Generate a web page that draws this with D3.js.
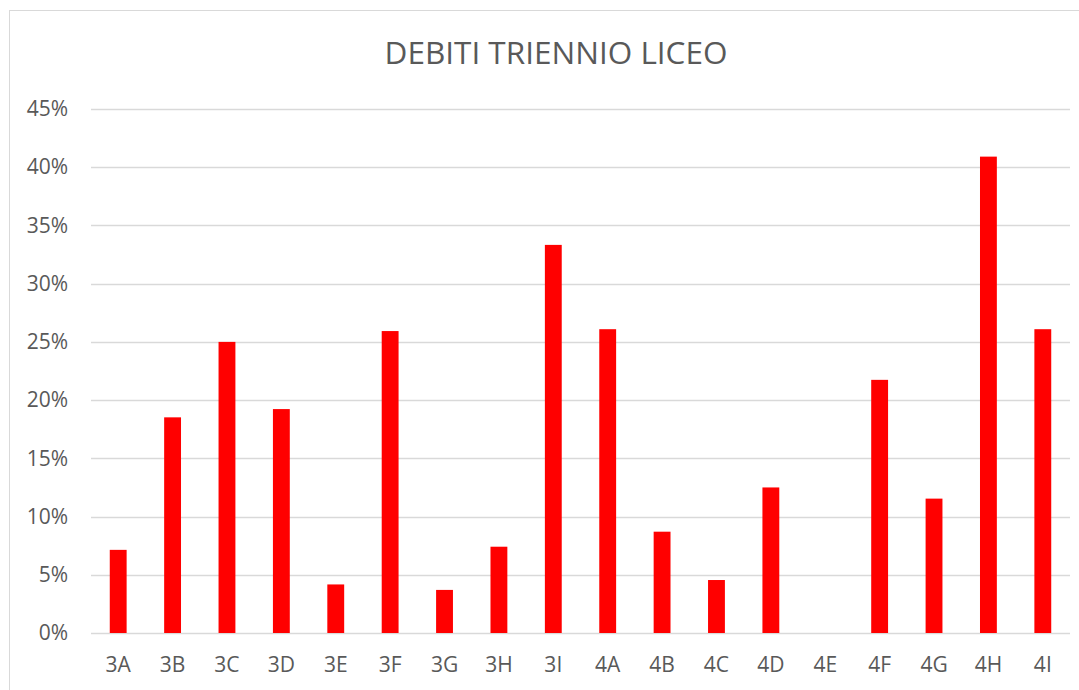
<!DOCTYPE html>
<html>
<head>
<meta charset="utf-8">
<script src="https://cdn.jsdelivr.net/npm/d3@7"></script>
<style>
  body { margin: 0; background: #fff; }
  text { font-family: "Open Sans", "DejaVu Sans", sans-serif; fill: #595959; }
</style>
</head>
<body>
<div id="chart"></div>
<script>
// class names and share of students with debts
var classes = ["3A","3B","3C","3D","3E","3F","3G","3H","3I","4A","4B","4C","4D","4E","4F","4G","4H","4I"];
var debiti = [0.0714, 0.1852, 0.25, 0.1923, 0.0417, 0.2593, 0.037, 0.0741, 0.3333,
              0.2609, 0.087, 0.0455, 0.125, 0, 0.2174, 0.1154, 0.4091, 0.2609];
var yTicks = [0, 0.05, 0.10, 0.15, 0.20, 0.25, 0.30, 0.35, 0.40, 0.45];

var W = 1079, H = 690;
var margin = {top: 109, right: 9, bottom: 57, left: 91},
    width = W - margin.left - margin.right,
    height = H - margin.top - margin.bottom;

var svg = d3.select("#chart").append("svg")
    .attr("width", W)
    .attr("height", H);

// chart frame
svg.append("rect")
    .attr("x", 9.5).attr("y", 10.5)
    .attr("width", W + 10).attr("height", H + 10)
    .attr("fill", "none")
    .attr("stroke", "#d9d9d9")
    .attr("stroke-width", 1);

svg.append("text")
    .attr("x", 556)
    .attr("y", 64)
    .style("text-anchor", "middle")
    .style("font-size", "31.5px")
    .text("DEBITI TRIENNIO LICEO");

var g = svg.append("g")
    .attr("transform", "translate(" + margin.left + "," + margin.top + ")");

var x = d3.scaleBand().domain(classes).range([0, width]).paddingInner(0.69).paddingOuter(0.345);
var y = d3.scaleLinear().domain([0, 0.45]).range([height, 0]);

// gridlines
g.selectAll(".grid")
    .data(yTicks)
  .enter().append("line")
    .attr("class", "grid")
    .attr("x1", 0).attr("x2", width)
    .attr("y1", function(d) { return Math.round(y(d)) + 0.5; })
    .attr("y2", function(d) { return Math.round(y(d)) + 0.5; })
    .attr("stroke", "#d9d9d9")
    .attr("stroke-width", 1.5);

// y axis labels
var yAxis = d3.axisLeft(y)
    .tickValues(yTicks)
    .tickFormat(d3.format(".0%"))
    .tickSize(0)
    .tickPadding(23);
var ya = g.append("g").call(yAxis);
ya.select(".domain").remove();
ya.selectAll("text").style("font-size", "21px").attr("fill", "#595959");

// bars
g.selectAll(".bar")
    .data(debiti)
  .enter().append("rect")
    .attr("class", "bar")
    .attr("x", function(d, i) { return x(classes[i]); })
    .attr("width", x.bandwidth())
    .attr("y", function(d) { return y(d); })
    .attr("height", function(d) { return height - y(d); })
    .attr("fill", "#ff0000");

// x axis labels
var xAxis = d3.axisBottom(x).tickSize(0).tickPadding(24);
var xa = g.append("g")
    .attr("transform", "translate(0," + height + ")")
    .call(xAxis);
xa.select(".domain").remove();
xa.selectAll("text").style("font-size", "21px").attr("fill", "#595959");
</script>
</body>
</html>
